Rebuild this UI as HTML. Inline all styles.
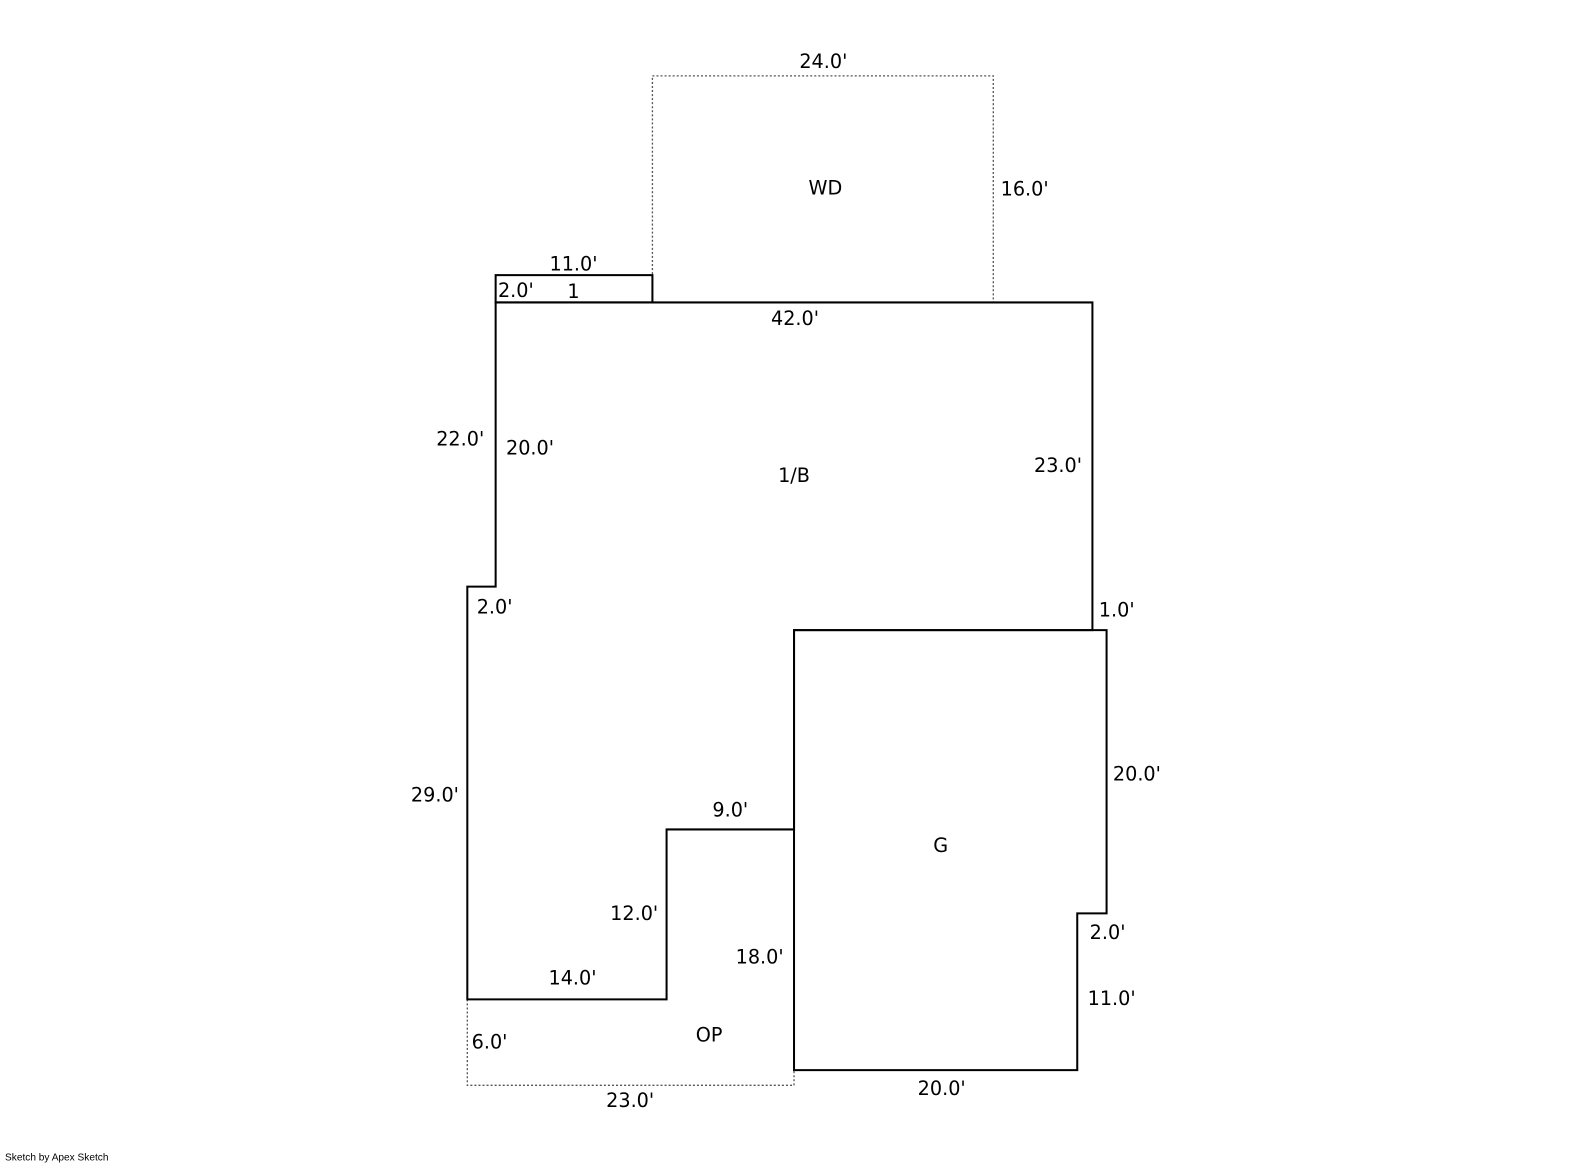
<!DOCTYPE html>
<html><head><meta charset="utf-8"><style>
html,body{margin:0;padding:0;background:#fff;width:1585px;height:1163px;overflow:hidden}
svg text{font-family:"DejaVu Sans","Liberation Sans",sans-serif;font-size:19px;fill:#000;text-anchor:middle;dominant-baseline:central}
</style></head><body>
<svg width="1585" height="1163" viewBox="0 0 1585 1163" xmlns="http://www.w3.org/2000/svg">
<g transform="scale(1.0115)">
<g fill="none" stroke="#555" stroke-width="1.3" stroke-dasharray="2,2">
<polyline points="645,299 645,75 982,75 982,299"/>
<polyline points="462,988 462,1073 785,1073 785,1058"/>
</g>
<g fill="none" stroke="#000" stroke-width="2">
<rect x="490" y="272" width="155" height="27"/>
<polygon points="490,299 1080,299 1080,623 785,623 785,820 659,820 659,988 462,988 462,580 490,580"/>
<polygon points="785,623 1094,623 1094,903 1065,903 1065,1058 785,1058"/>
</g>
<text x="814" y="61">24.0'</text>
<text x="816" y="186">WD</text>
<text x="1013" y="187">16.0'</text>
<text x="567" y="261">11.0'</text>
<text x="510" y="287">2.0'</text>
<text x="567" y="288">1</text>
<text x="786" y="315">42.0'</text>
<text x="455" y="434">22.0'</text>
<text x="524" y="443">20.0'</text>
<text x="785" y="470">1/B</text>
<text x="1046" y="460">23.0'</text>
<text x="489" y="600">2.0'</text>
<text x="1104" y="603">1.0'</text>
<text x="1124" y="765">20.0'</text>
<text x="430" y="786">29.0'</text>
<text x="722" y="801">9.0'</text>
<text x="930" y="836">G</text>
<text x="627" y="903">12.0'</text>
<text x="1095" y="922">2.0'</text>
<text x="751" y="946">18.0'</text>
<text x="566" y="967">14.0'</text>
<text x="1099" y="987">11.0'</text>
<text x="701" y="1023">OP</text>
<text x="484" y="1030">6.0'</text>
<text x="931" y="1076">20.0'</text>
<text x="623" y="1088">23.0'</text>
<text x="5" y="1145" style="font-size:10px;text-anchor:start;font-family:'Liberation Sans',sans-serif">Sketch by Apex Sketch</text>
</g>
</svg>
</body></html>
